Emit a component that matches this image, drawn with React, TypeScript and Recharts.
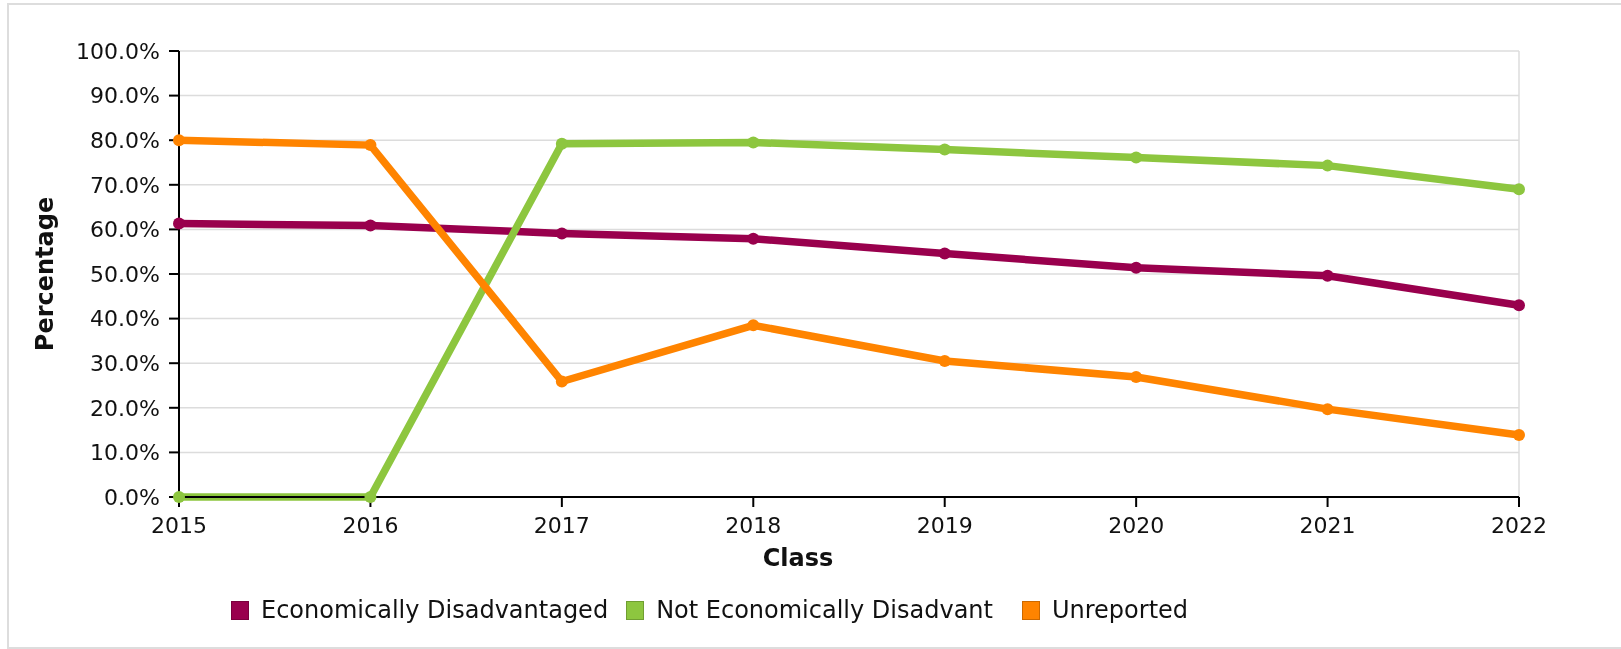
import React from "react"
import { CartesianGrid, Legend, Line, LineChart, ReferenceLine, XAxis, YAxis } from "recharts"

const years = ["2015", "2016", "2017", "2018", "2019", "2020", "2021", "2022"]
const econDisadv = [61.3, 60.9, 59.1, 57.9, 54.6, 51.4, 49.6, 43.0]
const notEconDisadv = [0, 0, 79.2, 79.5, 77.9, 76.1, 74.3, 69.0]
const unreported = [80.0, 78.9, 25.9, 38.5, 30.5, 26.9, 19.7, 13.9]
const yTicks = [0, 10, 20, 30, 40, 50, 60, 70, 80, 90, 100]

const seriesNames = ["Economically Disadvantaged", "Not Economically Disadvant", "Unreported"]
const seriesKeys = ["econ", "notEcon", "unrep"]
const seriesColors = ["#99004d", "#8dc63f", "#ff8400"]

const data = years.map((year, i) => ({
  year,
  econ: econDisadv[i],
  notEcon: notEconDisadv[i],
  unrep: unreported[i],
}))

const FONT = "'DejaVu Sans', sans-serif"

const renderLegend = () => (
  <div style={{ display: "flex", alignItems: "center", height: 28, fontFamily: FONT, fontSize: 24, color: "#111" }}>
    {seriesNames.map((name, i) => (
      <div key={name} style={{ display: "flex", alignItems: "center", marginRight: i === 1 ? 29 : 18 }}>
        <span
          style={{
            display: "inline-block",
            width: 18,
            height: 19,
            boxSizing: "border-box",
            background: seriesColors[i],
            border: "1px solid rgba(0,0,0,0.2)",
            marginRight: 12,
          }}
        />
        <span style={{ whiteSpace: "nowrap", lineHeight: "28px" }}>{name}</span>
      </div>
    ))}
  </div>
)

export default function App() {
  return (
    <>
      <div
        style={{
          position: "fixed",
          top: 3,
          left: 7,
          width: 1620,
          height: 646,
          boxSizing: "border-box",
          border: "2px solid #dddddd",
          pointerEvents: "none",
        }}
      />
      <LineChart
        width={1600}
        height={633}
        data={data}
        margin={{ top: 43, right: 89, left: 0, bottom: 54 }}
        style={{ fontFamily: FONT }}
      >
        <CartesianGrid vertical={false} stroke="#dcdcdc" strokeWidth={1.5} />
        <ReferenceLine x="2022" stroke="#dcdcdc" strokeWidth={1.5} />
        {seriesKeys.map((key, i) => (
          <Line
            key={key}
            dataKey={key}
            name={seriesNames[i]}
            type="linear"
            stroke={seriesColors[i]}
            strokeWidth={7.5}
            dot={{ r: 6, fill: seriesColors[i], stroke: "none" }}
            activeDot={false}
            isAnimationActive={false}
          />
        ))}
        <XAxis
          dataKey="year"
          height={90}
          stroke="#000"
          strokeWidth={2}
          tickSize={10}
          tickMargin={10}
          tick={{ fill: "#111", fontSize: 22, fontFamily: FONT }}
          label={{
            value: "Class",
            position: "insideBottom",
            offset: 21,
            dx: -51,
            style: { fontWeight: "bold", fontSize: 24, fill: "#111", fontFamily: FONT },
          }}
        />
        <YAxis
          width={171}
          domain={[0, 100]}
          ticks={yTicks}
          interval={0}
          stroke="#000"
          strokeWidth={2}
          tickSize={10}
          tickMargin={9}
          tickFormatter={(v: number) => v.toFixed(1) + "%"}
          tick={{ fill: "#111", fontSize: 22, fontFamily: FONT }}
          label={{
            value: "Percentage",
            angle: -90,
            position: "insideLeft",
            offset: 36,
            style: { textAnchor: "middle", fontWeight: "bold", fontSize: 24, fill: "#111", fontFamily: FONT },
          }}
        />
        <Legend
          layout="horizontal"
          verticalAlign="middle"
          align="center"
          wrapperStyle={{ left: 223, top: 588, width: "auto" }}
          content={renderLegend}
        />
      </LineChart>
    </>
  )
}
